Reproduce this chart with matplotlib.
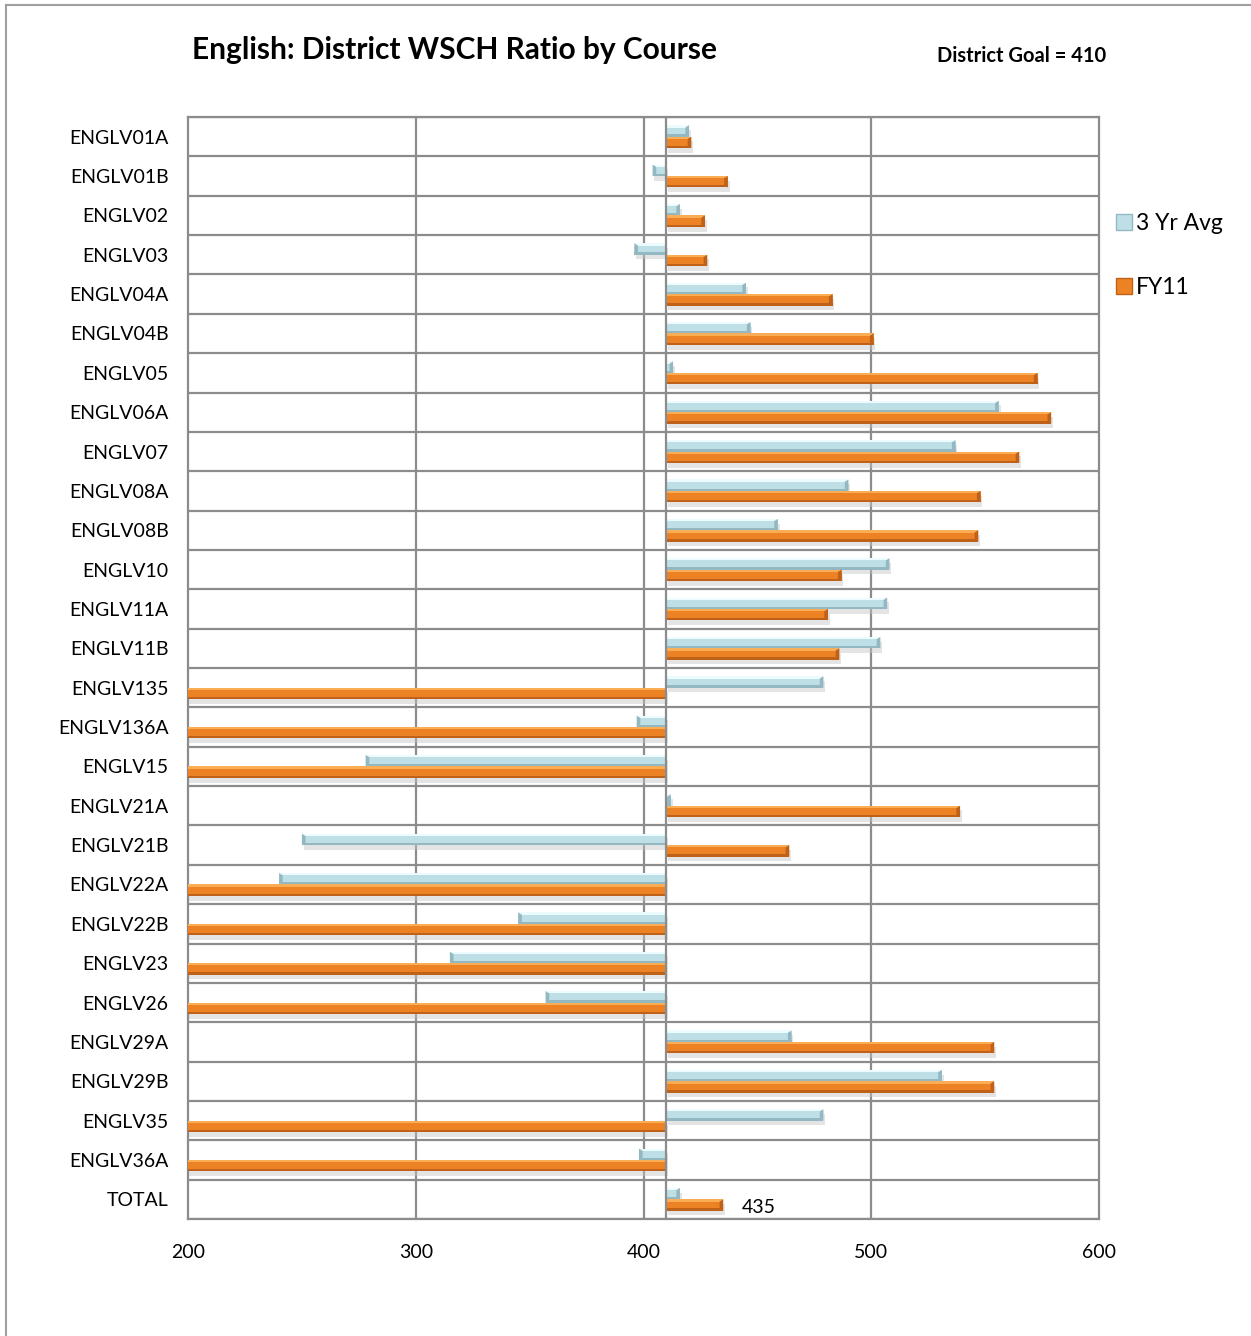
import numpy as np
import matplotlib.pyplot as plt
from matplotlib.patches import Rectangle, Polygon
from matplotlib.lines import Line2D

plt.rcParams['font.family'] = ['Lato', 'DejaVu Sans']

# data
courses = ['ENGLV01A', 'ENGLV01B', 'ENGLV02', 'ENGLV03', 'ENGLV04A', 'ENGLV04B',
           'ENGLV05', 'ENGLV06A', 'ENGLV07', 'ENGLV08A', 'ENGLV08B', 'ENGLV10',
           'ENGLV11A', 'ENGLV11B', 'ENGLV135', 'ENGLV136A', 'ENGLV15', 'ENGLV21A',
           'ENGLV21B', 'ENGLV22A', 'ENGLV22B', 'ENGLV23', 'ENGLV26', 'ENGLV29A',
           'ENGLV29B', 'ENGLV35', 'ENGLV36A', 'TOTAL']
avg3yr = [420, 404, 416, 396, 445, 447, 413, 556, 537, 490, 459, 508,
          507, 504, 479, 397, 278, 412, 250, 240, 345, 315, 357, 465,
          531, 479, 398, 416]
fy11 = [421, 437, 427, 428, 483, 501, 573, 579, 565, 548, 547, 487,
        481, 486, 0, 0, 0, 539, 464, 0, 0, 0, 0, 554,
        554, 0, 0, 435]
goal = 410
xticks = [200, 300, 400, 500, 600]

W, H = 1251, 1336
fig = plt.figure(figsize=(W / 100, H / 100), dpi=100)
ax = fig.add_axes([188 / W, 1 - 1219 / H, (1099 - 188) / W, (1219 - 117) / H])

n = len(courses)
y = np.arange(n)
bh = 0.29


def bevel_bar(yc, start, end, body, light, dark):
    lo, hi = min(start, end), max(start, end)
    w = hi - lo
    top = yc - bh / 2
    # shadow
    ax.add_patch(Rectangle((lo + 0.8, top + 0.12), w, bh, color='#c4c4c4', alpha=0.45, lw=0, zorder=2))
    ax.add_patch(Rectangle((lo, top), w, bh, color=body, lw=0, zorder=3))
    ax.add_patch(Rectangle((lo, top), w, bh * 0.2, color=light, lw=0, zorder=4))
    ax.add_patch(Rectangle((lo, top + bh * 0.8), w, bh * 0.2, color=dark, lw=0, zorder=4))
    # bevelled end
    e = 1.6
    if end >= start:
        pts = [(hi - e, top + bh * 0.2), (hi, top), (hi, top + bh), (hi - e, top + bh * 0.8)]
    else:
        pts = [(lo + e, top + bh * 0.2), (lo, top), (lo, top + bh), (lo + e, top + bh * 0.8)]
    ax.add_patch(Polygon(pts, closed=True, color=dark, lw=0, zorder=5))


for i in range(n):
    bevel_bar(y[i] - bh / 2, goal, avg3yr[i], '#bfdfe7', '#ecfbfe', '#93b8c2')
    bevel_bar(y[i] + bh / 2, goal, fy11[i], '#ec8224', '#fbad56', '#bd6218')

ax.set_xlim(200, 600)
ax.set_ylim(n - 0.5, -0.5)
ax.set_xticks(xticks)
ax.set_yticks(y)
ax.set_yticklabels(courses)
ax.tick_params(length=0, labelsize=14, pad=14)
ax.tick_params(axis='x', pad=18)

gc = '#8c8c8c'
for xv in xticks[1:-1]:
    ax.axvline(xv, color=gc, lw=1.6, zorder=1)
ax.axvline(goal, color=gc, lw=1.6, zorder=6)
for b in np.arange(n + 1) - 0.5:
    ax.axhline(b, color=gc, lw=1.6, zorder=1)
for s in ax.spines.values():
    s.set_color(gc)
    s.set_linewidth(1.6)

ax.text(443, y[-1] + 0.22, '435', ha='left', va='center', fontsize=14, zorder=7)

# legend
h1 = Line2D([], [], marker='s', ls='', markersize=11, markerfacecolor='#bfdfe7', markeredgecolor='#93b8c2')
h2 = Line2D([], [], marker='s', ls='', markersize=11, markerfacecolor='#ec8224', markeredgecolor='#bd6218')
fig.legend([h1, h2], ['3 Yr Avg', 'FY11'], loc='upper left', bbox_to_anchor=(1092 / W, 1 - 192 / H),
           frameon=False, fontsize=16.5, handletextpad=0.0, labelspacing=1.9, handlelength=1)

fig.text(455 / W, 1 - 50 / H, 'English: District WSCH Ratio by Course', ha='center', va='center',
         fontsize=21.5, fontweight='bold')
fig.text(1022 / W, 1 - 56 / H, 'District Goal = 410', ha='center', va='center',
         fontsize=14.5, fontweight='bold')

# outer border (left and top)
fig.add_artist(Line2D([6 / W, 6 / W], [0, 1 - 5 / H], color='#a0a0a0', lw=1.5))
fig.add_artist(Line2D([6 / W, 1], [1 - 5 / H, 1 - 5 / H], color='#a0a0a0', lw=1.5))

fig.savefig('out.png', dpi=100)
